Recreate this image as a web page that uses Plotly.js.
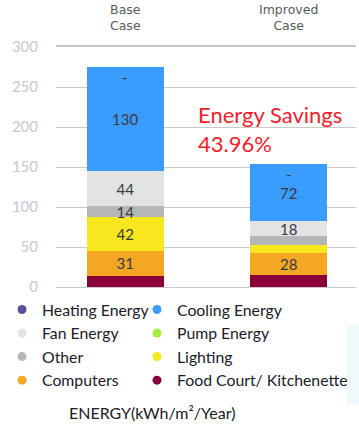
<!DOCTYPE html>
<html>
<head>
<meta charset="utf-8">
<script src="https://cdn.plot.ly/plotly-3.0.1.min.js"></script>
<style>html,body{margin:0;padding:0;background:#fff;}#chart{width:359px;height:448px;}</style>
</head>
<body>
<div id="chart"></div>
<script>
// Categories
const cases = ['Base<br>Case', 'Improved<br>Case'];
// Series values (kWh/m²/Year), bottom to top of stack
const foodCourt = [14, 15];
const computers = [31, 28];
const lighting  = [42, 9];
const other     = [14, 12];
const pump      = [0, 0];
const fan       = [44, 18];
const cooling   = [130, 72];
const heating   = [0, 0];
// Data labels
const foodCourtText = ['', ''];
const computersText = ['31', '28'];
const lightingText  = ['42', ''];
const otherText     = ['14', ''];
const fanText       = ['44', '18'];
const coolingText   = ['130', '72'];
const heatingText   = ['-', '-'];
// Legend columns
const legendCol1 = ['Heating Energy', 'Fan Energy', 'Other', 'Computers'];
const legendCol2 = ['Cooling Energy', 'Pump Energy', 'Lighting', 'Food Court/ Kitchenette'];
const savingsText = 'Energy Savings<br>43.96%';

const colors = {
  'Heating Energy': '#5e4f9c',
  'Cooling Energy': '#3a9cff',
  'Fan Energy': '#e2e3e3',
  'Pump Energy': '#a8ec3c',
  'Other': '#b5b6b6',
  'Lighting': '#f8e71c',
  'Computers': '#f5a623',
  'Food Court/ Kitchenette': '#8b0038'
};

const stack = [
  ['Food Court/ Kitchenette', foodCourt, foodCourtText],
  ['Computers', computers, computersText],
  ['Lighting', lighting, lightingText],
  ['Other', other, otherText],
  ['Pump Energy', pump, ['', '']],
  ['Fan Energy', fan, fanText],
  ['Cooling Energy', cooling, coolingText],
  ['Heating Energy', heating, ['', '']]
];

const labelFont = {family: 'Lato, sans-serif', size: 15, color: '#3a3a44'};
const traces = stack.map(([name, vals, txt]) => ({
  type: 'bar', name: name, x: cases, y: vals, text: txt,
  textposition: 'inside', insidetextanchor: 'middle', constraintext: 'none',
  textangle: 0, insidetextfont: labelFont, textfont: labelFont,
  marker: {color: colors[name], line: {width: 0}},
  width: 0.47, showlegend: false, hoverinfo: 'skip'
}));

[[legendCol1, 'legend'], [legendCol2, 'legend2']].forEach(([names, lg]) => names.forEach(name => traces.push({
  type: 'scatter', mode: 'markers', name: name, x: [null], y: [null], legend: lg,
  marker: {color: colors[name], size: 9, symbol: 'circle'}, showlegend: true
})));

const totals = cases.map((c, i) => stack.reduce((s, row) => s + row[1][i], 0));
const annotations = cases.map((c, i) => ({
  x: c, y: totals[i], xref: 'x', yref: 'y', text: heatingText[i], showarrow: false,
  yanchor: 'top', yshift: 1, font: labelFont
}));
annotations.push({
  xref: 'paper', yref: 'paper', x: 0.465, y: 0.659, xanchor: 'left', yanchor: 'middle',
  align: 'left', text: savingsText, showarrow: false,
  font: {family: 'Lato, sans-serif', size: 22, color: '#f0202a'}
});
annotations.push({
  xref: 'paper', yref: 'paper', x: 0.322, y: -0.523, xanchor: 'center', yanchor: 'middle',
  text: 'ENERGY(kWh/m²/Year)', showarrow: false,
  font: {family: 'Lato, sans-serif', size: 16, color: '#1a1a24'}
});

const legendBase = {
  orientation: 'v', y: -0.024, yanchor: 'top', traceorder: 'normal',
  font: {family: 'Lato, sans-serif', size: 15.8, color: '#1a1a2a'},
  bgcolor: 'rgba(0,0,0,0)', borderwidth: 0
};

const layout = {
  width: 359, height: 448,
  margin: {l: 55, r: 3, t: 47, b: 161},
  barmode: 'stack',
  paper_bgcolor: '#fff', plot_bgcolor: '#fff',
  xaxis: {
    type: 'category', side: 'top', range: [-0.424, 1.412],
    showgrid: false, zeroline: false, ticks: '',
    showline: true, linecolor: '#c6c6c6', linewidth: 2,
    tickfont: {family: 'DejaVu Sans, sans-serif', size: 12.5, color: '#5a5a5a'},
    ticklabelstandoff: 10
  },
  yaxis: {
    range: [0, 300], dtick: 50, showgrid: true, gridcolor: '#c9c9c9', gridwidth: 1,
    zeroline: true, zerolinecolor: '#c9c9c9', zerolinewidth: 1, ticks: '',
    tickfont: {family: 'Lato, sans-serif', size: 15, color: '#c5cad0'},
    ticklabelstandoff: 17
  },
  legend: Object.assign({}, legendBase, {x: -0.176, xanchor: 'left'}),
  legend2: Object.assign({}, legendBase, {x: 0.99, xanchor: 'right'}),
  shapes: [{
    type: 'rect', xref: 'paper', yref: 'paper', x0: 0.966, x1: 1.02, y0: -0.49, y1: -0.157,
    fillcolor: '#f1f8fc', line: {width: 0}, layer: 'below'
  }],
  annotations: annotations,
  showlegend: true
};

Plotly.newPlot('chart', traces, layout, {displayModeBar: false, staticPlot: true});
</script>
</body>
</html>
